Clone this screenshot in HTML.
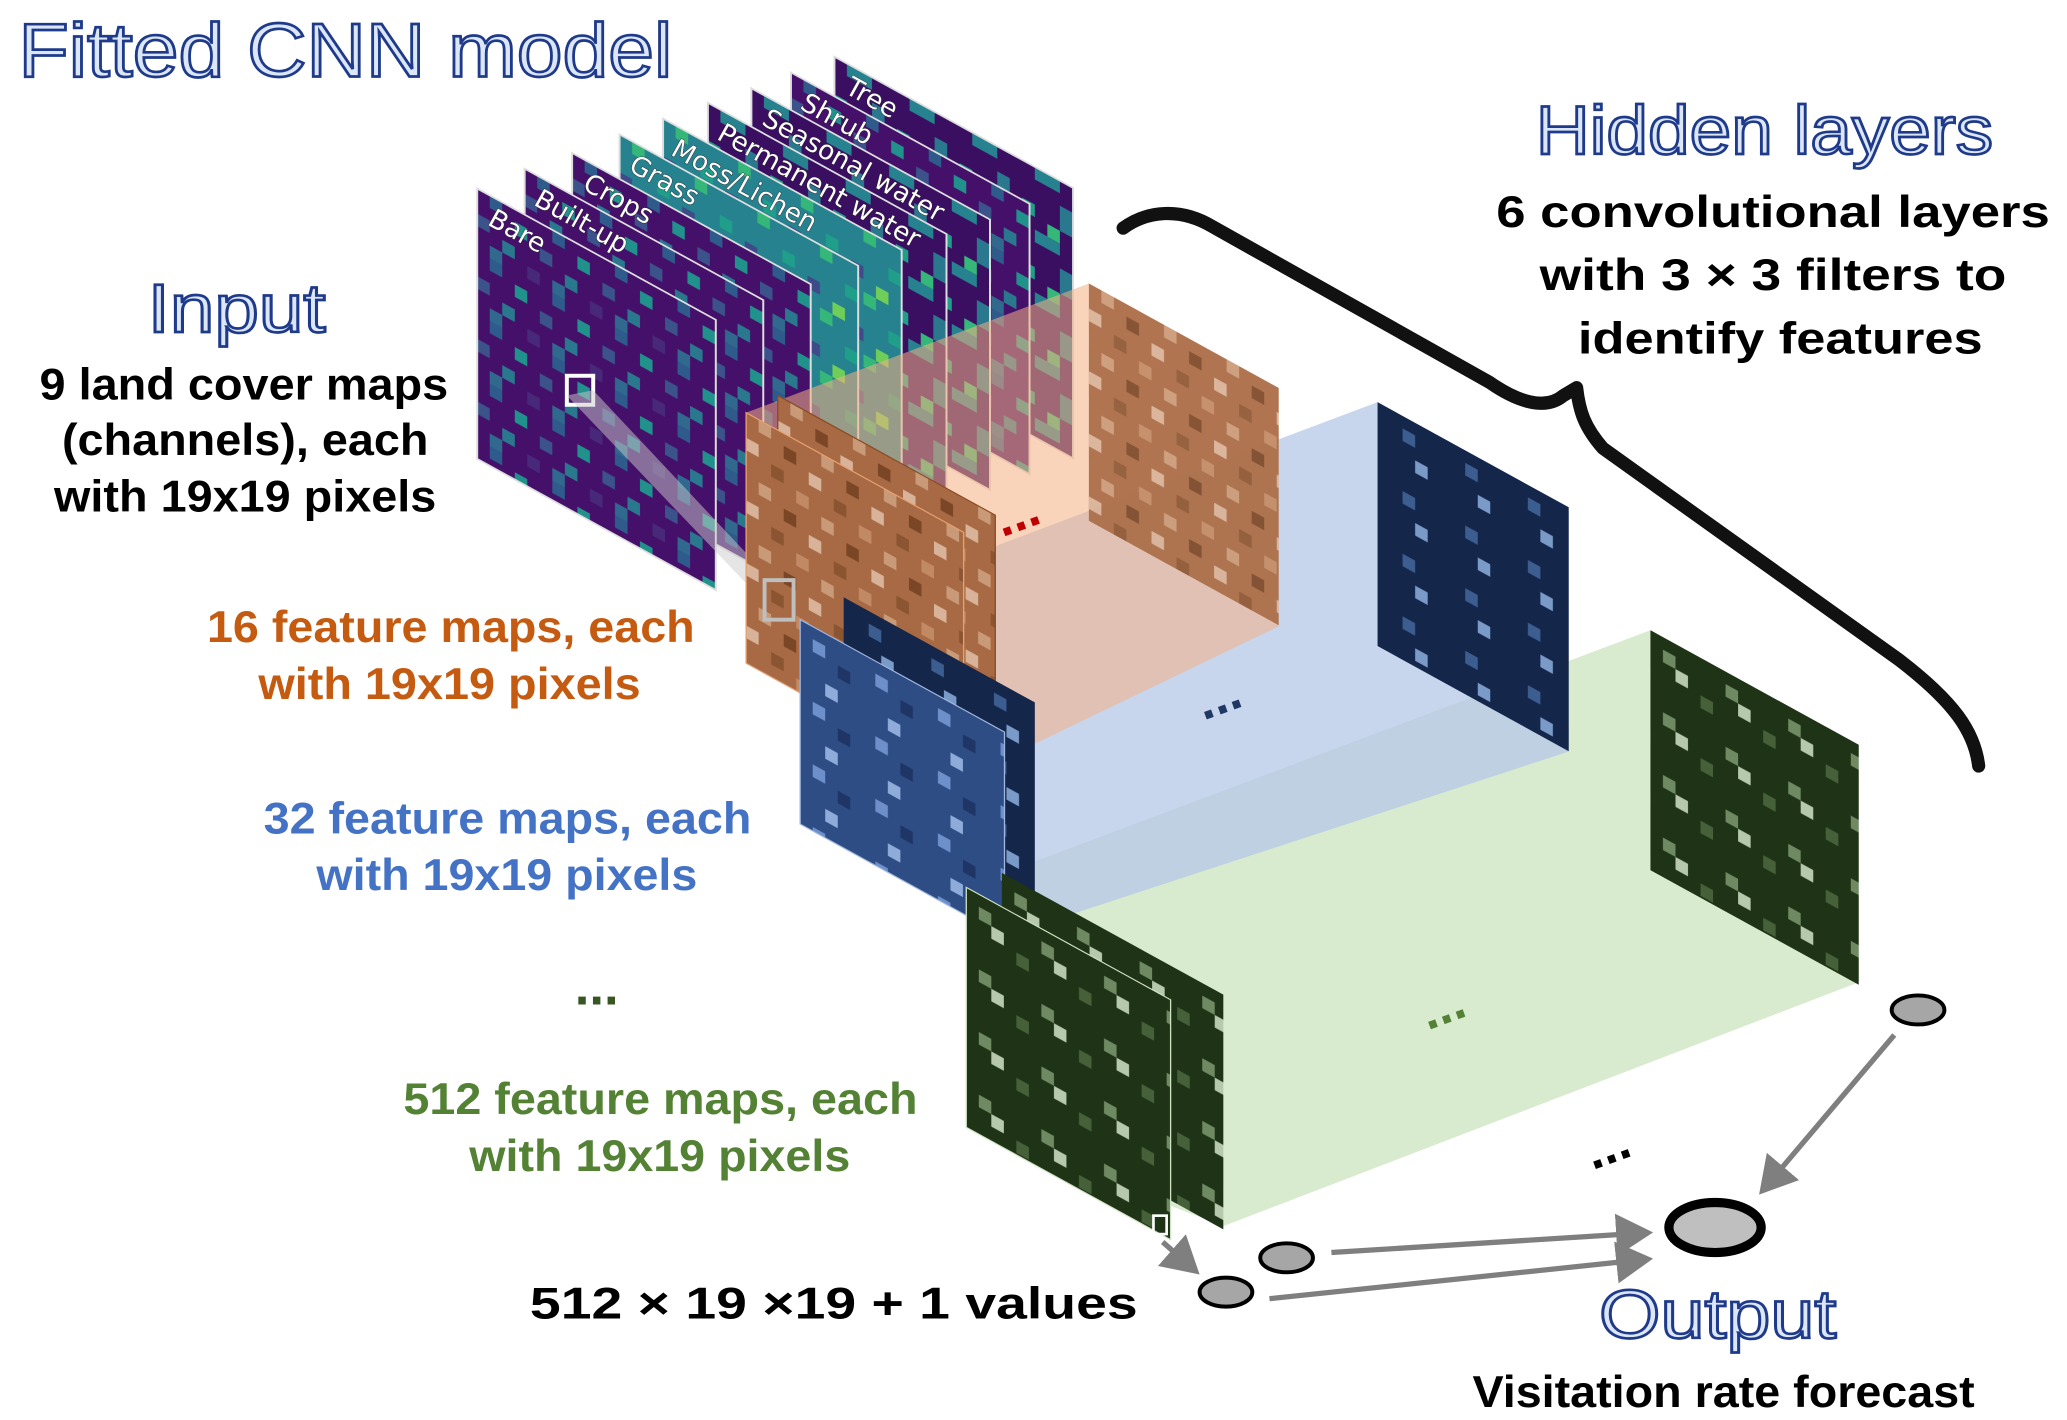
<!DOCTYPE html>
<html><head><meta charset="utf-8"><style>
html,body{margin:0;padding:0;background:#fff;}
svg{display:block;}
.t{font-family:"Liberation Sans Narrow","Liberation Sans",sans-serif;font-weight:bold;}
.h{font-family:"Liberation Sans Narrow","Liberation Sans",sans-serif;fill:#dbe6f7;stroke:#1f3a8a;stroke-width:2;}
.lab{font-family:"DejaVu Sans","Liberation Sans",sans-serif;font-size:20px;fill:#fff;stroke:#222;stroke-width:0.6;paint-order:stroke;}
</style></head><body>
<svg width="2067" height="1420" viewBox="0 0 1568 1077" preserveAspectRatio="none" xmlns="http://www.w3.org/2000/svg">
<defs>
<pattern id="vir" width="47.5" height="47.5" patternUnits="userSpaceOnUse">
<rect width="47.5" height="47.5" fill="#45106a"/>
<rect x="9.5" y="0" width="9.5" height="9.5" fill="#2f5b8c"/>
<rect x="28.5" y="9.5" width="9.5" height="9.5" fill="#21918c"/>
<rect x="0" y="19" width="9.5" height="9.5" fill="#3b528b"/>
<rect x="19" y="28.5" width="9.5" height="9.5" fill="#2a788e"/>
<rect x="38" y="38" width="9.5" height="9.5" fill="#482878"/>
<rect x="9.5" y="38" width="9.5" height="9.5" fill="#31688e"/>
</pattern>
<pattern id="teal" width="47.5" height="47.5" patternUnits="userSpaceOnUse">
<rect width="47.5" height="47.5" fill="#26828e"/>
<rect x="9.5" y="0" width="9.5" height="9.5" fill="#35b779"/>
<rect x="28.5" y="19" width="9.5" height="9.5" fill="#1f9e89"/>
<rect x="0" y="28.5" width="9.5" height="9.5" fill="#3e4a89"/>
<rect x="19" y="38" width="9.5" height="9.5" fill="#6ece58"/>
</pattern>
<pattern id="mix" width="47.5" height="47.5" patternUnits="userSpaceOnUse">
<rect width="47.5" height="47.5" fill="#3a0f62"/>
<rect x="9.5" y="0" width="19" height="9.5" fill="#26828e"/>
<rect x="28.5" y="19" width="9.5" height="19" fill="#2a788e"/>
<rect x="0" y="28.5" width="9.5" height="9.5" fill="#1f9e89"/>
<rect x="19" y="38" width="9.5" height="9.5" fill="#35b779"/>
</pattern>
<pattern id="org" width="47.5" height="47.5" patternUnits="userSpaceOnUse">
<rect width="47.5" height="47.5" fill="#a86a44"/>
<rect x="9.5" y="0" width="9.5" height="9.5" fill="#c99a78"/>
<rect x="28.5" y="9.5" width="9.5" height="9.5" fill="#7a4626"/>
<rect x="0" y="19" width="9.5" height="9.5" fill="#d8b39a"/>
<rect x="19" y="28.5" width="9.5" height="9.5" fill="#8c5531"/>
<rect x="38" y="38" width="9.5" height="9.5" fill="#c28a64"/>
</pattern>
<pattern id="blu" width="47.5" height="47.5" patternUnits="userSpaceOnUse">
<rect width="47.5" height="47.5" fill="#2e4d85"/>
<rect x="9.5" y="9.5" width="9.5" height="9.5" fill="#6d8fca"/>
<rect x="28.5" y="19" width="9.5" height="9.5" fill="#1f3566"/>
<rect x="19" y="38" width="9.5" height="9.5" fill="#8eabd9"/>
</pattern>
<pattern id="dblu" width="47.5" height="47.5" patternUnits="userSpaceOnUse">
<rect width="47.5" height="47.5" fill="#14264a"/>
<rect x="19" y="9.5" width="9.5" height="9.5" fill="#3c5d8f"/>
<rect x="28.5" y="28.5" width="9.5" height="9.5" fill="#7a9ac8"/>
</pattern>
<pattern id="grn" width="47.5" height="47.5" patternUnits="userSpaceOnUse">
<rect width="47.5" height="47.5" fill="#1f3316"/>
<rect x="9.5" y="9.5" width="9.5" height="9.5" fill="#6f8a62"/>
<rect x="19" y="19" width="9.5" height="9.5" fill="#b6c9ac"/>
<rect x="38" y="28.5" width="9.5" height="9.5" fill="#46603a"/>
</pattern>
<marker id="ar" markerWidth="8" markerHeight="8" refX="6" refY="4" orient="auto" markerUnits="strokeWidth">
<path d="M0,0 L7,4 L0,8 Z" fill="#7f7f7f"/></marker>
</defs>

<!-- green box -->
<polygon points="733,673 1252,478 1410,565 1410,745 928,930 733,855" fill="#c5e0b4" opacity="0.65"/>
<g transform="matrix(1,0.55,0,1,1252,478)"><rect width="158" height="182" fill="url(#grn)"/></g>
<!-- blue box -->
<polygon points="607,470 1045,305 1190,388 1190,570 762,710 607,625" fill="#b4c7e7" opacity="0.75"/>
<g transform="matrix(1,0.55,0,1,1045,305)"><rect width="145" height="185" fill="url(#dblu)"/></g>

<!-- input stack -->
<g stroke="#ddd" stroke-width="1.5">
<g transform="matrix(1,0.55,0,1,633,43)"><rect width="181" height="205" fill="url(#mix)"/></g>
<g transform="matrix(1,0.55,0,1,600,55)"><rect width="181" height="205" fill="url(#vir)"/></g>
<g transform="matrix(1,0.55,0,1,570,67)"><rect width="181" height="205" fill="url(#mix)"/></g>
<g transform="matrix(1,0.55,0,1,537,78)"><rect width="181" height="205" fill="url(#mix)"/></g>
<g transform="matrix(1,0.55,0,1,503,90)"><rect width="181" height="205" fill="url(#teal)"/></g>
<g transform="matrix(1,0.55,0,1,470,102)"><rect width="181" height="205" fill="url(#teal)"/></g>
<g transform="matrix(1,0.55,0,1,434,116)"><rect width="181" height="205" fill="url(#vir)"/></g>
<g transform="matrix(1,0.55,0,1,398,128)"><rect width="181" height="205" fill="url(#vir)"/></g>
<g transform="matrix(1,0.55,0,1,362,143)"><rect width="181" height="205" fill="url(#vir)"/></g>
</g>
<g class="lab">
<text transform="translate(640,70) rotate(29)">Tree</text>
<text transform="translate(606,82) rotate(29)">Shrub</text>
<text transform="translate(577,94) rotate(29)">Seasonal water</text>
<text transform="translate(543,105) rotate(29)">Permanent water</text>
<text transform="translate(508,117) rotate(29)">Moss/Lichen</text>
<text transform="translate(476,129) rotate(29)">Grass</text>
<text transform="translate(441,143) rotate(29)">Crops</text>
<text transform="translate(404,155) rotate(29)">Built-up</text>
<text transform="translate(369,170) rotate(29)">Bare</text>
</g>
<rect x="430" y="285" width="20" height="22" fill="none" stroke="#fff" stroke-width="3"/>
<polygon points="430,300 450,296 590,445 578,455" fill="#ccc" opacity="0.5"/>

<!-- orange box -->
<polygon points="566,313 826,215 970,295 970,475 731,590 566,500" fill="#f4b183" opacity="0.55"/>
<g transform="matrix(1,0.55,0,1,826,215)"><rect width="144" height="180" fill="url(#org)" opacity="0.9"/></g>
<g transform="matrix(1,0.55,0,1,590,300)"><rect width="165" height="190" fill="url(#org)" stroke="#8a4a20"/></g>
<g transform="matrix(1,0.55,0,1,566,313)"><rect width="165" height="190" fill="url(#org)" stroke="#e8a070"/></g>
<rect x="580" y="440" width="22" height="30" fill="none" stroke="#bfbfbf" stroke-width="3"/>

<!-- blue front -->
<g transform="matrix(1,0.55,0,1,640,453)"><rect width="145" height="170" fill="url(#dblu)"/></g>
<g transform="matrix(1,0.55,0,1,607,470)"><rect width="155" height="155" fill="url(#blu)" stroke="#9fb6e0"/></g>

<!-- green front -->
<g transform="matrix(1,0.55,0,1,760,662)"><rect width="168" height="178" fill="url(#grn)"/></g>
<g transform="matrix(1,0.55,0,1,733,673)"><rect width="155" height="182" fill="url(#grn)" stroke="#cfe3c2"/></g>
<rect x="875" y="922" width="10" height="14" fill="none" stroke="#fff" stroke-width="2"/>

<!-- brace -->
<path d="M852,173 C870,160 895,157 920,172 L1130,290 C1150,304 1172,312 1186,300 L1196,294 C1198,312 1202,324 1216,340 L1440,500 C1482,532 1498,555 1501,581" fill="none" stroke="#111" stroke-width="10" stroke-linecap="round" stroke-linejoin="round"/>

<!-- dots -->
<g font-family="Liberation Sans" font-weight="bold" font-size="40">
<text x="757" y="400" fill="#c00000" transform="rotate(-20 780 395)">...</text>
<text x="910" y="540" fill="#1f3864" transform="rotate(-20 930 535)">...</text>
<text x="1080" y="775" fill="#548235" transform="rotate(-20 1100 770)">...</text>
<text x="1205" y="880" fill="#000" transform="rotate(-20 1228 875)">...</text>
<text x="436" y="762" fill="#375623">...</text>
</g>

<!-- arrows -->
<g stroke="#7f7f7f" stroke-width="4" fill="none" marker-end="url(#ar)">
<line x1="1437" y1="785" x2="1337" y2="903"/>
<line x1="1010" y1="950" x2="1250" y2="935"/>
<line x1="963" y1="985" x2="1250" y2="955"/>
<line x1="882" y1="942" x2="907" y2="964"/>
</g>
<g stroke="#000" fill="#a6a6a6">
<ellipse cx="1455" cy="766" rx="20" ry="11" stroke-width="3"/>
<ellipse cx="1301" cy="931" rx="35" ry="19" stroke-width="7" fill="#bfbfbf"/>
<ellipse cx="976" cy="954" rx="20" ry="11" stroke-width="3"/>
<ellipse cx="930" cy="980" rx="20" ry="11" stroke-width="3"/>
</g>

<!-- text -->
<text class="h" x="14" y="58" font-size="58" textLength="496" lengthAdjust="spacingAndGlyphs">Fitted CNN model</text>
<text class="h" x="1165" y="117" font-size="52" textLength="347" lengthAdjust="spacingAndGlyphs">Hidden layers</text>
<text class="h" x="112" y="252" font-size="52" textLength="135" lengthAdjust="spacingAndGlyphs">Input</text>
<text class="h" x="1213" y="1015" font-size="52" textLength="180" lengthAdjust="spacingAndGlyphs">Output</text>
<g class="t" font-size="34">
<text x="1135" y="172" textLength="420" lengthAdjust="spacingAndGlyphs">6 convolutional layers</text>
<text x="1168" y="220" textLength="354" lengthAdjust="spacingAndGlyphs">with 3 × 3 filters to</text>
<text x="1197" y="268" textLength="307" lengthAdjust="spacingAndGlyphs">identify features</text>
<text x="30" y="303" textLength="310" lengthAdjust="spacingAndGlyphs">9 land cover maps</text>
<text x="47" y="345" textLength="278" lengthAdjust="spacingAndGlyphs">(channels), each</text>
<text x="41" y="388" textLength="290" lengthAdjust="spacingAndGlyphs">with 19x19 pixels</text>
<text x="157" y="487" fill="#c55a11" textLength="370" lengthAdjust="spacingAndGlyphs">16 feature maps, each</text>
<text x="196" y="530" fill="#c55a11" textLength="290" lengthAdjust="spacingAndGlyphs">with 19x19 pixels</text>
<text x="200" y="632" fill="#4472c4" textLength="370" lengthAdjust="spacingAndGlyphs">32 feature maps, each</text>
<text x="240" y="675" fill="#4472c4" textLength="289" lengthAdjust="spacingAndGlyphs">with 19x19 pixels</text>
<text x="306" y="845" fill="#548235" textLength="390" lengthAdjust="spacingAndGlyphs">512 feature maps, each</text>
<text x="356" y="888" fill="#548235" textLength="289" lengthAdjust="spacingAndGlyphs">with 19x19 pixels</text>
<text x="402" y="1000" textLength="461" lengthAdjust="spacingAndGlyphs">512 × 19 ×19  + 1 values</text>
<text x="1117" y="1067" textLength="381" lengthAdjust="spacingAndGlyphs">Visitation rate forecast</text>
</g>
</svg>
</body></html>
